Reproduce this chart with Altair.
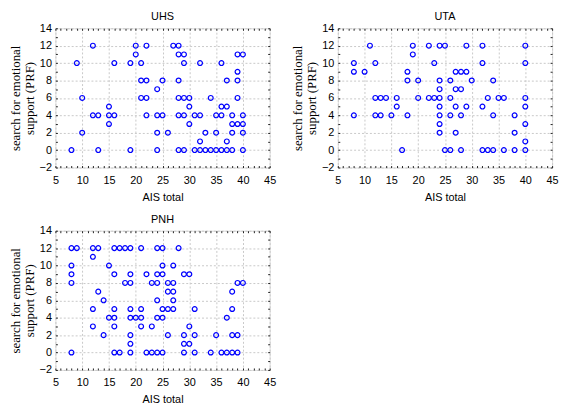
import altair as alt
import pandas as pd

# ---- data (AIS total, search for emotional support) ----
uhs_x = [12, 20, 22, 27, 28,
         20, 28, 29, 39, 40,
         9, 16, 19, 21, 29, 32, 36,
         39,
         21, 22, 25, 28, 37, 39,
         24,
         10, 21, 22, 28, 29, 30, 34, 39,
         15, 30, 36, 37,
         12, 13, 15, 16, 22, 24, 25, 28, 29, 31, 32, 35, 36, 38, 40,
         15, 30, 38, 39, 40,
         10, 24, 26, 33, 35, 38, 40,
         32, 37,
         8, 13, 19, 24, 28, 29, 31, 32, 33, 34, 35, 36, 37, 38, 40]
uhs_y = ([12] * 5 + [11] * 5 + [10] * 7 + [9] * 1 + [8] * 6 + [7] * 1 + [6] * 8
         + [5] * 4 + [4] * 15 + [3] * 5 + [2] * 7 + [1] * 2 + [0] * 15)

uta_x = [11, 19, 22, 24, 25, 29, 32, 40,
         19,
         8, 12, 23, 32, 40,
         8, 10, 18, 27, 28, 29,
         18, 20, 24, 26, 30, 34,
         24, 27, 28,
         12, 13, 14, 16, 20, 22, 23, 24, 26, 33, 35, 36, 40,
         16, 24, 27, 29, 32, 40,
         8, 12, 13, 15, 18, 24, 26, 28, 34, 38,
         24, 40,
         24, 27, 38,
         40,
         17, 25, 26, 28, 32, 33, 34, 36, 38, 40]
uta_y = ([12] * 8 + [11] * 1 + [10] * 5 + [9] * 6 + [8] * 6 + [7] * 3 + [6] * 13
         + [5] * 6 + [4] * 10 + [3] * 2 + [2] * 3 + [1] * 1 + [0] * 10)

pnh_x = [8, 9, 12, 13, 16, 17, 18, 19, 21, 24, 25, 28,
         12,
         8, 15, 25, 27,
         8, 16, 19, 22, 24, 25, 29, 30,
         8, 18, 19, 23, 24, 26, 27, 39, 40,
         13, 26, 27, 38,
         14, 24, 27,
         12, 16, 19, 21, 25, 26, 27, 31, 38,
         15, 16, 19, 20, 21, 24, 25, 37,
         12, 16, 21, 23, 30,
         14, 19, 26, 29, 31, 35, 38, 39,
         19, 29, 30,
         8, 16, 17, 19, 22, 23, 24, 25, 29, 31, 34, 36, 37, 38, 39]
pnh_y = ([12] * 12 + [11] * 1 + [10] * 4 + [9] * 8 + [8] * 9 + [7] * 4 + [6] * 3
         + [5] * 9 + [4] * 8 + [3] * 5 + [2] * 8 + [1] * 3 + [0] * 15)

x_ticks = list(range(5, 46))
y_ticks = list(range(-2, 15))
y_title = ["search for emotional", "support (PRF)"]
x_title = "AIS total"

W, H = 217, 141
SANS = "Liberation Sans"
SERIF = "Liberation Serif"
FRAME = "#222222"


def panel(name, xs, ys):
    df = pd.DataFrame({"x": xs, "y": ys})
    xscale = alt.Scale(domain=[5, 45], nice=False, zero=False)
    yscale = alt.Scale(domain=[-2, 14], nice=False, zero=False)
    tick_common = dict(tickSize=2, tickColor=FRAME, tickWidth=1, offset=-2,
                       domain=False, labelOverlap=False, labelFlush=False,
                       labelFont=SANS, labelFontSize=11, labelColor="black")
    x_axis = alt.Axis(values=x_ticks,
                      labelExpr="datum.value % 5 === 0 ? datum.label : ''",
                      grid=True, gridColor="#c8c8c8", gridDash=[2, 2],
                      gridOpacity={"condition": {"test": "datum.value % 5 === 0", "value": 1}, "value": 0},
                      labelPadding=7, title=x_title, titleFont=SANS,
                      titleFontSize=11, titleFontWeight="normal",
                      titleColor="black", titlePadding=6, **tick_common)
    y_axis = alt.Axis(values=y_ticks,
                      labelExpr="datum.value % 2 === 0 ? datum.label : ''",
                      grid=True, gridColor="#c8c8c8", gridDash=[2, 2],
                      gridOpacity={"condition": {"test": "datum.value % 2 === 0", "value": 1}, "value": 0},
                      labelPadding=4, title=y_title, titleFont=SERIF,
                      titleFontSize=13, titleFontWeight="normal",
                      titleColor="black", titlePadding=3, titleLineHeight=14,
                      **tick_common)
    x_top = alt.Axis(orient="top", values=x_ticks, labels=False, grid=False,
                     title=None, tickSize=2, tickColor=FRAME, offset=-2, domain=False)
    y_right = alt.Axis(orient="right", values=y_ticks, labels=False, grid=False,
                       title=None, tickSize=2, tickColor=FRAME, offset=-2, domain=False)
    base = alt.Chart(df)
    pts = base.mark_point(shape="circle", filled=False, color="#0000ff",
                          strokeWidth=1.2, size=24, opacity=1).encode(
        x=alt.X("x:Q", scale=xscale, axis=x_axis),
        y=alt.Y("y:Q", scale=yscale, axis=y_axis),
    )
    frame = base.mark_point(opacity=0).encode(
        x=alt.X("x:Q", scale=xscale, axis=x_top),
        y=alt.Y("y:Q", scale=yscale, axis=y_right),
    )
    return alt.layer(pts, frame).resolve_axis(x="independent", y="independent").properties(
        width=W, height=H,
        title=alt.TitleParams(name, font=SANS, fontSize=11, fontWeight="normal",
                              color="black", offset=0, anchor="middle"),
    )


top = alt.hconcat(panel("UHS", uhs_x, uhs_y), panel("UTA", uta_x, uta_y), spacing=14)
chart = alt.vconcat(top, panel("PNH", pnh_x, pnh_y), spacing=10).properties(
    padding={"left": 0, "top": 0, "right": 0, "bottom": 0}
).configure_view(stroke=FRAME, strokeWidth=1).configure(background="white")

chart.save("out.html", embed_options={"renderer": "svg", "actions": False})
